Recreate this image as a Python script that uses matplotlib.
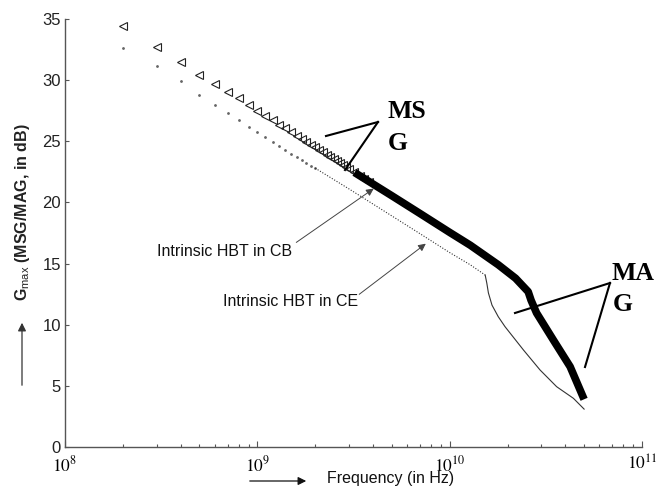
import matplotlib
matplotlib.use("Agg")
import matplotlib.pyplot as plt
from matplotlib.lines import Line2D
from matplotlib.ticker import LogLocator, NullFormatter

plt.rcParams['font.family'] = ['Liberation Sans', 'DejaVu Sans']
plt.rcParams['mathtext.fontset'] = 'custom'
plt.rcParams['mathtext.rm'] = 'Liberation Sans'
plt.rcParams['mathtext.bf'] = 'Liberation Sans:bold'

# CB (MSG then MAG)
cb_freq_pts = [2e8, 3e8, 4e8, 5e8, 6e8, 7e8, 8e8, 9e8, 1.0e9, 1.1e9, 1.2e9, 1.3e9, 1.4e9, 1.5e9,
               1.6e9, 1.7e9, 1.8e9, 1.9e9, 2.0e9, 2.1e9, 2.2e9, 2.3e9, 2.4e9, 2.5e9, 2.6e9,
               2.7e9, 2.8e9, 2.9e9, 3.0e9, 3.2e9, 3.4e9, 3.6e9, 3.8e9]
cb_gain_pts = [34.45, 32.7, 31.45, 30.45, 29.7, 29.05, 28.5, 27.95, 27.5, 27.05, 26.7, 26.35, 26.05, 25.75,
               25.45, 25.2, 24.95, 24.7, 24.5, 24.3, 24.1, 23.9, 23.7, 23.55, 23.35,
               23.2, 23.05, 22.9, 22.75, 22.45, 22.2, 21.95, 21.7]
cb_freq_band = [3.2e9, 5e9, 7e9, 1e10, 1.28e10, 1.79e10, 2.2e10, 2.56e10, 2.65e10, 2.83e10, 3.46e10,
                4.23e10, 5e10]
cb_gain_band = [22.45, 20.55, 19.1, 17.55, 16.5, 14.9, 13.8, 12.7, 12.0, 10.96, 8.75, 6.57, 3.9]

# CE
ce_freq_pts = [2e8, 3e8, 4e8, 5e8, 6e8, 7e8, 8e8, 9e8, 1.0e9, 1.1e9, 1.2e9, 1.3e9, 1.4e9, 1.5e9,
               1.6e9, 1.7e9, 1.8e9, 1.9e9, 2.0e9]
ce_gain_pts = [32.65, 31.15, 29.9, 28.75, 27.95, 27.3, 26.7, 26.2, 25.75, 25.35, 24.95, 24.6, 24.3, 24.0,
               23.75, 23.5, 23.25, 23.0, 22.8]
ce_freq_msg = [2e9, 3e9, 5e9, 7e9, 1e10, 1.28e10, 1.53e10]
ce_gain_msg = [22.8, 21.1, 18.9, 17.45, 15.9, 14.9, 14.06]
ce_freq_mag = [1.53e10, 1.56e10, 1.59e10, 1.66e10, 1.79e10, 1.94e10, 2.42e10, 2.95e10, 3.6e10, 4.4e10, 5e10]
ce_gain_mag = [14.06, 13.4, 12.6, 11.6, 10.65, 9.84, 7.93, 6.3, 4.93, 3.98, 3.1]

W, H = 657, 492


def px(x, y):
    return (x / W, 1 - y / H)


fig = plt.figure(figsize=(6.57, 4.92), dpi=100)
ax = fig.add_axes([65 / W, 45 / H, 577 / W, 428 / H])

ax.plot(ce_freq_pts, ce_gain_pts, linestyle='none', marker='.', markersize=2, color='#666666')
ax.plot(ce_freq_msg, ce_gain_msg, linestyle=(0, (1, 1.5)), lw=0.8, color='#333333')
ax.plot(ce_freq_mag, ce_gain_mag, lw=0.8, color='#333333')

ax.plot(cb_freq_pts, cb_gain_pts, linestyle='none', marker='<', markersize=6,
        markerfacecolor='none', markeredgecolor='#222222', markeredgewidth=0.8)
ax.plot(cb_freq_band, cb_gain_band, lw=5.5, color='black', solid_joinstyle='round',
        solid_capstyle='butt')

ax.set_xscale('log')
ax.set_xlim(1e8, 1e11)
ax.set_ylim(0, 35)
ax.set_yticks([0, 5, 10, 15, 20, 25, 30, 35])
ax.set_xticks([1e8, 1e9, 1e10, 1e11])
ax.set_xticklabels([r'$10^{8}$', r'$10^{9}$', r'$10^{10}$', r'$10^{11}$'],
                   math_fontfamily='stix', fontsize=12.5)
ax.xaxis.set_minor_locator(LogLocator(base=10, subs=range(2, 10), numticks=20))
ax.xaxis.set_minor_formatter(NullFormatter())
ax.tick_params(axis='y', direction='in', length=3, width=0.8, colors='#555555',
               labelcolor='#222222', labelsize=12, pad=3)
ax.tick_params(axis='x', which='major', direction='in', length=4, width=0.8, colors='#555555',
               labelcolor='black', pad=5)
ax.tick_params(axis='x', which='minor', direction='in', length=2.5, width=0.8, colors='#555555')
for s in ['top', 'right']:
    ax.spines[s].set_visible(False)
for s in ['left', 'bottom']:
    ax.spines[s].set_color('#555555')
    ax.spines[s].set_linewidth(1)

# axis labels with arrows
fig.text(*px(23, 212), r'G$_{\mathrm{max}}$ (MSG/MAG, in dB)', rotation=90, ha='center', va='center',
         fontsize=11.5, fontweight='bold', color='#222222')
ax.annotate('', xy=px(22, 320), xytext=px(22, 388), xycoords='figure fraction',
            textcoords='figure fraction',
            arrowprops=dict(arrowstyle='-|>', color='#333333', lw=0.9, mutation_scale=12))
fig.text(*px(327, 479), 'Frequency (in Hz)', ha='left', va='center', fontsize=11.5, color='#111111')
ax.annotate('', xy=px(309, 481), xytext=px(247, 481), xycoords='figure fraction',
            textcoords='figure fraction',
            arrowprops=dict(arrowstyle='-|>', color='#111111', lw=0.9, mutation_scale=12))

# curve labels
fig.text(*px(157, 252), 'Intrinsic HBT in CB', ha='left', va='center', fontsize=11.5, color='#111111')
fig.text(*px(223, 302), 'Intrinsic HBT in CE', ha='left', va='center', fontsize=11.5, color='#111111')
ax.annotate('', xy=px(376, 187), xytext=px(294, 244), xycoords='figure fraction',
            textcoords='figure fraction',
            arrowprops=dict(arrowstyle='-|>', color='#444444', lw=0.7, mutation_scale=11))
ax.annotate('', xy=px(428, 242), xytext=px(357, 296), xycoords='figure fraction',
            textcoords='figure fraction',
            arrowprops=dict(arrowstyle='-|>', color='#444444', lw=0.7, mutation_scale=11))

# MSG / MAG callouts
serif = dict(family='Liberation Serif', fontweight='bold', fontsize=18.5, color='black',
             ha='left', va='baseline')
fig.text(*px(388, 118), 'MS', **serif)
fig.text(*px(388, 150), 'G', **serif)
fig.text(*px(612, 280), 'MA', **serif)
fig.text(*px(613, 311), 'G', **serif)
for (x0, y0), (x1, y1) in [((326, 136), (378, 122)), ((378, 122), (345, 170)),
                           ((515, 313), (610, 283)), ((610, 283), (585, 367))]:
    a, b = px(x0, y0)
    c, d = px(x1, y1)
    fig.add_artist(Line2D([a, c], [b, d], transform=fig.transFigure, color='black', lw=1.5))

fig.savefig('out.png', dpi=100)
